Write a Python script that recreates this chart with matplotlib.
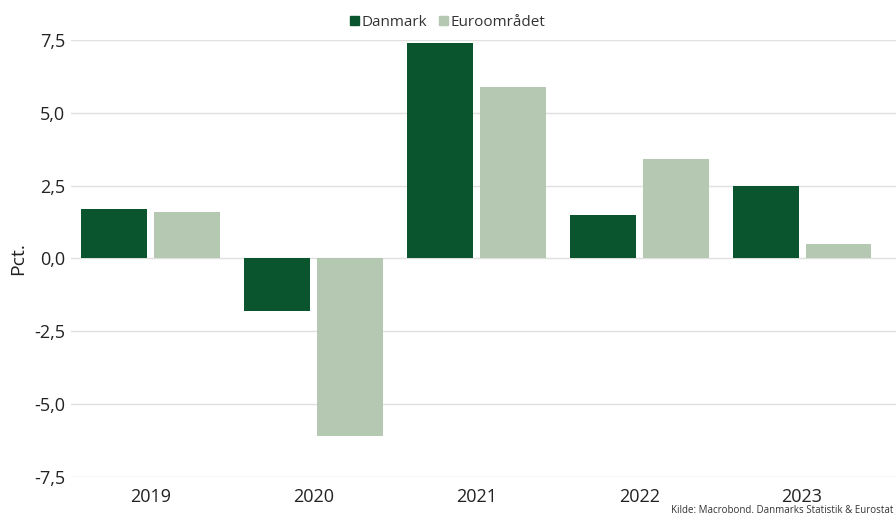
import numpy as np
import matplotlib.pyplot as plt
from matplotlib.ticker import FuncFormatter
from matplotlib.patches import Patch

plt.rcParams['font.family'] = ['Open Sans', 'DejaVu Sans']

years = ['2019', '2020', '2021', '2022', '2023']
danmark = [1.7, -1.8, 7.4, 1.5, 2.5]
euro = [1.6, -6.1, 5.9, 3.4, 0.5]
yticks = [-7.5, -5.0, -2.5, 0.0, 2.5, 5.0, 7.5]

c_dk = '#0b552e'
c_eu = '#b5c8b1'

fig = plt.figure(figsize=(8.96, 5.22), dpi=100)
ax = fig.add_axes([0.0792, 0.0862, 0.9208, 0.8372])

x = np.arange(len(years))
w = 0.405
ax.bar(x - 0.224, danmark, w, color=c_dk, zorder=3)
ax.bar(x + 0.224, euro, w, color=c_eu, zorder=3)

ax.set_xlim(-0.49, 4.577)
ax.set_ylim(-7.5, 7.5)
ax.set_yticks(yticks)
ax.yaxis.set_major_formatter(FuncFormatter(lambda v, p: f'{v:.1f}'.replace('.', ',')))
ax.set_xticks(x)
ax.set_xticklabels(years)
ax.tick_params(axis='both', length=0, labelsize=13, colors='#222222')
ax.tick_params(axis='x', pad=8)
ax.tick_params(axis='y', pad=4)
ax.grid(axis='y', color='#e0e0e0', linewidth=1, zorder=0)
for s in ax.spines.values():
    s.set_visible(False)

ax.set_ylabel('Pct.', fontsize=14, color='#222222', labelpad=5)

handles = [Patch(color=c_dk, label='Danmark'), Patch(color=c_eu, label='Euroområdet')]
fig.legend(handles=handles, loc='center', bbox_to_anchor=(0.5, 0.957), ncol=2, frameon=False,
           fontsize=11, handlelength=0.55, handleheight=0.55, handletextpad=0.2, columnspacing=0.8,
           labelcolor='#333333')

fig.text(0.997, 0.012, 'Kilde: Macrobond. Danmarks Statistik & Eurostat', ha='right', va='bottom',
         fontsize=7, color='#333333')

fig.savefig('out.png', dpi=100)
